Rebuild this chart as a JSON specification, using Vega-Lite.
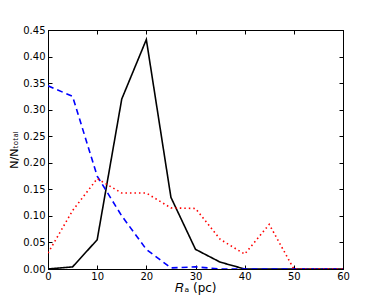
{
  "$schema": "https://vega.github.io/schema/vega-lite/v6.json",
  "width": 295,
  "height": 239,
  "autosize": {"type": "none"},
  "padding": {"left": 48, "top": 30, "right": 39, "bottom": 31},
  "background": "white",
  "config": {
    "view": {"stroke": "black", "strokeWidth": 1},
    "font": "DejaVu Sans",
    "axis": {
      "domainColor": "black",
      "tickColor": "black",
      "tickSize": -4,
      "labelFontSize": 10,
      "labelColor": "black",
      "labelFlush": false,
      "grid": false,
      "titleFontWeight": "normal",
      "titleColor": "black",
      "titleFontSize": 11
    }
  },
  "data": {
    "values": [
      {"series": "A", "r": 0, "n": 0.0},
      {"series": "A", "r": 5, "n": 0.004},
      {"series": "A", "r": 10, "n": 0.055},
      {"series": "A", "r": 15, "n": 0.32},
      {"series": "A", "r": 20, "n": 0.432},
      {"series": "A", "r": 25, "n": 0.135},
      {"series": "A", "r": 30, "n": 0.037},
      {"series": "A", "r": 35, "n": 0.013},
      {"series": "A", "r": 40, "n": 0.0},
      {"series": "A", "r": 45, "n": 0.0},
      {"series": "A", "r": 50, "n": 0.0},
      {"series": "A", "r": 55, "n": 0.0},
      {"series": "A", "r": 60, "n": 0.0},
      {"series": "B", "r": 0, "n": 0.345},
      {"series": "B", "r": 5, "n": 0.325},
      {"series": "B", "r": 10, "n": 0.175},
      {"series": "B", "r": 15, "n": 0.1},
      {"series": "B", "r": 20, "n": 0.037},
      {"series": "B", "r": 25, "n": 0.002},
      {"series": "B", "r": 30, "n": 0.004},
      {"series": "B", "r": 35, "n": 0.0},
      {"series": "B", "r": 40, "n": 0.0},
      {"series": "B", "r": 45, "n": 0.0},
      {"series": "B", "r": 50, "n": 0.0},
      {"series": "B", "r": 55, "n": 0.0},
      {"series": "B", "r": 60, "n": 0.0},
      {"series": "C", "r": 0, "n": 0.03},
      {"series": "C", "r": 5, "n": 0.11},
      {"series": "C", "r": 10, "n": 0.17},
      {"series": "C", "r": 15, "n": 0.143},
      {"series": "C", "r": 20, "n": 0.143},
      {"series": "C", "r": 25, "n": 0.115},
      {"series": "C", "r": 30, "n": 0.114},
      {"series": "C", "r": 35, "n": 0.056},
      {"series": "C", "r": 40, "n": 0.028},
      {"series": "C", "r": 45, "n": 0.084},
      {"series": "C", "r": 50, "n": 0.0},
      {"series": "C", "r": 55, "n": 0.0},
      {"series": "C", "r": 60, "n": 0.0}
    ]
  },
  "resolve": {"axis": {"x": "independent", "y": "independent"}},
  "layer": [
    {
      "mark": {"type": "line", "strokeWidth": 1.6, "clip": true},
      "encoding": {
        "x": {
          "field": "r", "type": "quantitative",
          "scale": {"domain": [0, 60], "nice": false, "zero": false},
          "axis": {"values": [0, 10, 20, 30, 40, 50, 60], "labelPadding": 6, "title": "𝑅ₐ (pc)", "titlePadding": 1, "titleFont": "DejaVu Sans", "titleFontSize": 12}
        },
        "y": {
          "field": "n", "type": "quantitative",
          "scale": {"domain": [0, 0.45], "nice": false},
          "axis": {"values": [0, 0.05, 0.1, 0.15, 0.2, 0.25, 0.3, 0.35, 0.4, 0.45], "format": ".2f", "labelPadding": 7, "title": "N/Nₜₒₜₐₗ", "titlePadding": 3}
        },
        "color": {
          "field": "series", "type": "nominal",
          "scale": {"domain": ["A", "B", "C"], "range": ["black", "blue", "red"]},
          "legend": null
        },
        "strokeDash": {
          "field": "series", "type": "nominal",
          "scale": {"domain": ["A", "B", "C"], "range": [[1, 0], [6, 4], [1.5, 3]]},
          "legend": null
        },
        "order": {"field": "r", "type": "quantitative"}
      }
    },
    {
      "mark": {"type": "line", "opacity": 0},
      "encoding": {
        "x": {
          "field": "r", "type": "quantitative",
          "axis": {"orient": "top", "values": [0, 10, 20, 30, 40, 50, 60], "labels": false, "title": null}
        },
        "y": {
          "field": "n", "type": "quantitative",
          "axis": {"orient": "right", "values": [0, 0.05, 0.1, 0.15, 0.2, 0.25, 0.3, 0.35, 0.4, 0.45], "labels": false, "title": null}
        },
        "detail": {"field": "series"}
      }
    }
  ]
}
